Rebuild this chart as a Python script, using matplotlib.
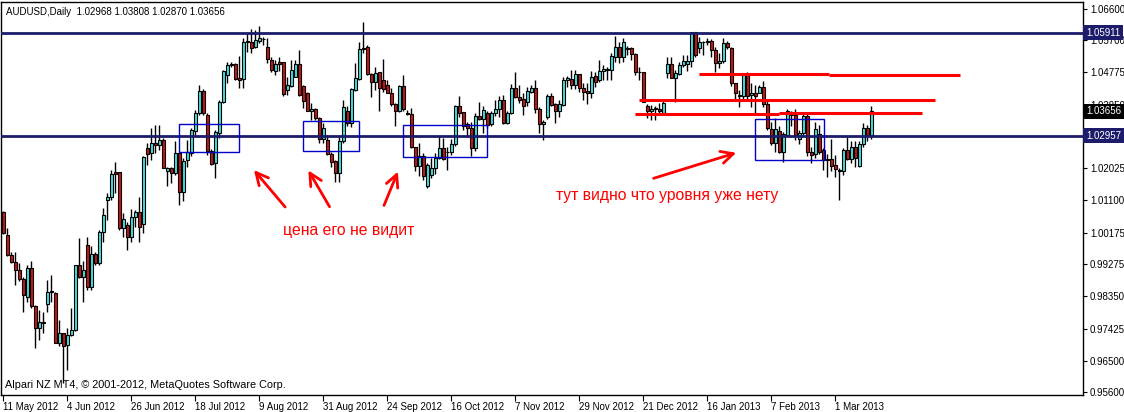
import matplotlib.pyplot as plt
from matplotlib.transforms import blended_transform_factory

plt.rcParams['font.family'] = ['Liberation Sans', 'DejaVu Sans']

# AUDUSD daily, one bar per trading day
opens = [1.0076, 1.0011, 0.9954, 0.9933, 0.9911, 0.9884, 0.9834, 0.9915, 0.9806, 0.9743,
         0.9758, 0.9813, 0.9847, 0.9844, 0.9700, 0.9729, 0.9696, 0.9724, 0.9737, 0.9925,
         0.9890, 0.9982, 0.9861, 0.9957, 0.9930, 1.0019, 1.0111, 1.0119, 1.0192, 1.0192,
         1.0030, 1.0040, 1.0006, 1.0062, 1.0077, 1.0042, 1.0260, 1.0245, 1.0276, 1.0269,
         1.0284, 1.0193, 1.0202, 1.0188, 1.0247, 1.0135, 1.0226, 1.0245, 1.0310, 1.0360,
         1.0425, 1.0355, 1.0253, 1.0217, 1.0303, 1.0392, 1.0469, 1.0497, 1.0500, 1.0460,
         1.0459, 1.0563, 1.0565, 1.0549, 1.0567, 1.0573, 1.0549, 1.0513, 1.0482, 1.0508,
         1.0507, 1.0427, 1.0439, 1.0465, 1.0500, 1.0438, 1.0419, 1.0366, 1.0371, 1.0346,
         1.0285, 1.0283, 1.0242, 1.0223, 1.0188, 1.0281, 1.0367, 1.0331, 1.0427, 1.0459,
         1.0546, 1.0549, 1.0472, 1.0451, 1.0477, 1.0456, 1.0440, 1.0419, 1.0386, 1.0367,
         1.0438, 1.0360, 1.0358, 1.0262, 1.0210, 1.0236, 1.0150, 1.0183, 1.0202, 1.0231,
         1.0260, 1.0250, 1.0248, 1.0271, 1.0381, 1.0364, 1.0329, 1.0317, 1.0260, 1.0352,
         1.0343, 1.0360, 1.0328, 1.0360, 1.0371, 1.0398, 1.0333, 1.0360, 1.0432, 1.0406,
         1.0400, 1.0393, 1.0422, 1.0432, 1.0371, 1.0328, 1.0348, 1.0408, 1.0386, 1.0365,
         1.0384, 1.0454, 1.0459, 1.0441, 1.0472, 1.0432, 1.0425, 1.0417, 1.0467, 1.0454,
         1.0482, 1.0484, 1.0484, 1.0522, 1.0549, 1.0522, 1.0548, 1.0546, 1.0529, 1.0479,
         1.0478, 1.0381, 1.0365, 1.0374, 1.0371, 1.0362, 1.0475, 1.0500, 1.0462, 1.0473,
         1.0499, 1.0501, 1.0510, 1.0592, 1.0546, 1.0563, 1.0563, 1.0568, 1.0540, 1.0503,
         1.0511, 1.0561, 1.0548, 1.0446, 1.0413, 1.0410, 1.0473, 1.0411, 1.0419, 1.0419,
         1.0434, 1.0386, 1.0314, 1.0276, 1.0309, 1.0250, 1.0298, 1.0364, 1.0355, 1.0285,
         1.0303, 1.0352, 1.0250, 1.0242, 1.0300, 1.0255, 1.0228, 1.0228, 1.0212, 1.0197,
         1.0195, 1.0255, 1.0228, 1.0264, 1.0210, 1.0271, 1.0317, 1.02968]
highs = [1.0081, 1.0030, 0.9963, 0.9961, 0.9930, 0.9891, 0.9925, 0.9935, 0.9810, 0.9796,
         0.9790, 0.9882, 0.9896, 0.9848, 0.9767, 0.9731, 0.9743, 0.9801, 0.9925, 1.0002,
         0.9935, 1.0006, 0.9978, 0.9963, 1.0025, 1.0088, 1.0131, 1.0197, 1.0219, 1.0192,
         1.0073, 1.0049, 1.0085, 1.0083, 1.0121, 1.0236, 1.0274, 1.0317, 1.0327, 1.0327,
         1.0288, 1.0207, 1.0207, 1.0279, 1.0250, 1.0231, 1.0283, 1.0317, 1.0370, 1.0441,
         1.0429, 1.0362, 1.0258, 1.0312, 1.0398, 1.0484, 1.0508, 1.0508, 1.0503, 1.0523,
         1.0575, 1.0589, 1.0601, 1.0599, 1.0610, 1.0578, 1.0575, 1.0522, 1.0513, 1.0522,
         1.0508, 1.0465, 1.0513, 1.0513, 1.0542, 1.0441, 1.0422, 1.0389, 1.0374, 1.0350,
         1.0331, 1.0298, 1.0250, 1.0226, 1.0293, 1.0398, 1.0381, 1.0432, 1.0503, 1.0565,
         1.0623, 1.0556, 1.0475, 1.0494, 1.0479, 1.0515, 1.0456, 1.0432, 1.0389, 1.0441,
         1.0470, 1.0370, 1.0374, 1.0264, 1.0274, 1.0245, 1.0217, 1.0231, 1.0245, 1.0295,
         1.0288, 1.0264, 1.0285, 1.0384, 1.0410, 1.0364, 1.0336, 1.0336, 1.0360, 1.0393,
         1.0381, 1.0365, 1.0365, 1.0398, 1.0408, 1.0413, 1.0367, 1.0444, 1.0479, 1.0441,
         1.0417, 1.0436, 1.0441, 1.0456, 1.0377, 1.0341, 1.0414, 1.0419, 1.0389, 1.0398,
         1.0465, 1.0467, 1.0484, 1.0484, 1.0473, 1.0446, 1.0446, 1.0481, 1.0479, 1.0513,
         1.0499, 1.0494, 1.0532, 1.0582, 1.0563, 1.0575, 1.0553, 1.0551, 1.0532, 1.0494,
         1.0479, 1.0387, 1.0384, 1.0381, 1.0389, 1.0398, 1.0522, 1.0522, 1.0484, 1.0508,
         1.0527, 1.0527, 1.0594, 1.0594, 1.0580, 1.0566, 1.0575, 1.0572, 1.0551, 1.0532,
         1.0575, 1.0568, 1.0549, 1.0448, 1.0427, 1.0473, 1.0477, 1.0446, 1.0441, 1.0441,
         1.0453, 1.0398, 1.0336, 1.0346, 1.0322, 1.0307, 1.0371, 1.0367, 1.0371, 1.0312,
         1.0360, 1.0360, 1.0264, 1.0336, 1.0326, 1.0260, 1.0243, 1.0285, 1.0240, 1.0202,
         1.0260, 1.0293, 1.0279, 1.0279, 1.0279, 1.0331, 1.0326, 1.03808]
lows = [1.0014, 0.9951, 0.9930, 0.9866, 0.9880, 0.9791, 0.9820, 0.9801, 0.9686, 0.9710,
        0.9729, 0.9791, 0.9820, 0.9700, 0.9691, 0.9586, 0.9624, 0.9721, 0.9734, 0.9887,
        0.9820, 0.9853, 0.9853, 0.9925, 0.9925, 0.9992, 1.0054, 1.0111, 1.0131, 1.0025,
        1.0006, 0.9968, 0.9992, 1.0035, 0.9992, 1.0016, 1.0212, 1.0226, 1.0245, 1.0255,
        1.0202, 1.0150, 1.0159, 1.0183, 1.0097, 1.0107, 1.0207, 1.0236, 1.0298, 1.0355,
        1.0355, 1.0240, 1.0212, 1.0174, 1.0288, 1.0389, 1.0446, 1.0494, 1.0456, 1.0432,
        1.0432, 1.0537, 1.0532, 1.0546, 1.0561, 1.0556, 1.0503, 1.0479, 1.0470, 1.0480,
        1.0408, 1.0413, 1.0436, 1.0470, 1.0408, 1.0374, 1.0365, 1.0341, 1.0341, 1.0274,
        1.0274, 1.0240, 1.0207, 1.0164, 1.0164, 1.0274, 1.0322, 1.0320, 1.0425, 1.0456,
        1.0532, 1.0470, 1.0406, 1.0427, 1.0365, 1.0422, 1.0417, 1.0381, 1.0324, 1.0364,
        1.0365, 1.0355, 1.0260, 1.0193, 1.0180, 1.0169, 1.0145, 1.0174, 1.0186, 1.0228,
        1.0226, 1.0197, 1.0239, 1.0267, 1.0350, 1.0312, 1.0291, 1.0236, 1.0253, 1.0341,
        1.0302, 1.0317, 1.0324, 1.0352, 1.0350, 1.0328, 1.0329, 1.0358, 1.0403, 1.0389,
        1.0355, 1.0381, 1.0417, 1.0362, 1.0302, 1.0283, 1.0343, 1.0381, 1.0333, 1.0348,
        1.0381, 1.0435, 1.0429, 1.0429, 1.0422, 1.0398, 1.0387, 1.0405, 1.0435, 1.0449,
        1.0454, 1.0456, 1.0456, 1.0508, 1.0503, 1.0508, 1.0527, 1.0513, 1.0470, 1.0456,
        1.0391, 1.0346, 1.0341, 1.0341, 1.0360, 1.0360, 1.0460, 1.0460, 1.0391, 1.0470,
        1.0494, 1.0482, 1.0494, 1.0522, 1.0532, 1.0527, 1.0556, 1.0522, 1.0479, 1.0489,
        1.0505, 1.0543, 1.0438, 1.0400, 1.0379, 1.0400, 1.0398, 1.0377, 1.0360, 1.0417,
        1.0379, 1.0312, 1.0269, 1.0250, 1.0245, 1.0221, 1.0295, 1.0322, 1.0283, 1.0272,
        1.0298, 1.0236, 1.0217, 1.0231, 1.0243, 1.0197, 1.0178, 1.0193, 1.0178, 1.0111,
        1.0183, 1.0226, 1.0217, 1.0207, 1.0207, 1.0262, 1.0279, 1.02870]
closes = [1.0016, 0.9954, 0.9933, 0.9909, 0.9884, 0.9839, 0.9915, 0.9806, 0.9743, 0.9760,
          0.9760, 0.9847, 0.9850, 0.9700, 0.9729, 0.9691, 0.9724, 0.9739, 0.9925, 0.9890,
          0.9911, 0.9861, 0.9957, 0.9930, 1.0019, 1.0068, 1.0121, 1.0186, 1.0186, 1.0030,
          1.0056, 1.0004, 1.0062, 1.0077, 1.0035, 1.0234, 1.0243, 1.0276, 1.0269, 1.0284,
          1.0204, 1.0202, 1.0188, 1.0247, 1.0135, 1.0223, 1.0250, 1.0312, 1.0360, 1.0424,
          1.0360, 1.0253, 1.0215, 1.0306, 1.0392, 1.0480, 1.0498, 1.0500, 1.0458, 1.0456,
          1.0565, 1.0567, 1.0548, 1.0570, 1.0575, 1.0572, 1.0515, 1.0484, 1.0501, 1.0500,
          1.0415, 1.0441, 1.0484, 1.0500, 1.0413, 1.0396, 1.0367, 1.0371, 1.0346, 1.0285,
          1.0317, 1.0242, 1.0219, 1.0188, 1.0281, 1.0379, 1.0331, 1.0429, 1.0460, 1.0544,
          1.0545, 1.0473, 1.0451, 1.0475, 1.0432, 1.0430, 1.0419, 1.0386, 1.0365, 1.0438,
          1.0372, 1.0358, 1.0264, 1.0210, 1.0236, 1.0181, 1.0212, 1.0202, 1.0231, 1.0260,
          1.0228, 1.0248, 1.0272, 1.0381, 1.0362, 1.0324, 1.0317, 1.0260, 1.0352, 1.0343,
          1.0370, 1.0326, 1.0360, 1.0371, 1.0398, 1.0331, 1.0360, 1.0432, 1.0406, 1.0398,
          1.0381, 1.0425, 1.0432, 1.0371, 1.0328, 1.0334, 1.0410, 1.0384, 1.0365, 1.0386,
          1.0456, 1.0460, 1.0441, 1.0472, 1.0432, 1.0422, 1.0417, 1.0465, 1.0450, 1.0481,
          1.0486, 1.0486, 1.0524, 1.0549, 1.0522, 1.0564, 1.0545, 1.0529, 1.0477, 1.0477,
          1.0393, 1.0365, 1.0372, 1.0372, 1.0367, 1.0389, 1.0500, 1.0462, 1.0475, 1.0499,
          1.0510, 1.0510, 1.0592, 1.0527, 1.0563, 1.0564, 1.0568, 1.0540, 1.0505, 1.0511,
          1.0561, 1.0549, 1.0446, 1.0419, 1.0410, 1.0473, 1.0410, 1.0419, 1.0408, 1.0434,
          1.0386, 1.0317, 1.0276, 1.0314, 1.0250, 1.0300, 1.0367, 1.0355, 1.0298, 1.0303,
          1.0352, 1.0250, 1.0240, 1.0314, 1.0250, 1.0226, 1.0226, 1.0210, 1.0199, 1.0195,
          1.0255, 1.0229, 1.0262, 1.0231, 1.0271, 1.0317, 1.0298, 1.03656]

date_pos = [0, 16, 32, 48, 64, 80, 96, 112, 128, 144, 160, 176, 192, 208]
date_labels = ['11 May 2012', '4 Jun 2012', '26 Jun 2012', '18 Jul 2012', '9 Aug 2012',
               '31 Aug 2012', '24 Sep 2012', '16 Oct 2012', '7 Nov 2012', '29 Nov 2012',
               '21 Dec 2012', '16 Jan 2013', '7 Feb 2013', '1 Mar 2013']
price_ticks = [1.066, 1.057, 1.04775, 1.0385, 1.02025, 1.011, 1.00175,
               0.99275, 0.9835, 0.97425, 0.965, 0.956]

# drawn objects: levels, boxes, arrows, notes
navy_levels = [1.05911, 1.02957]
red_segments = [(173.9, 206.4, 1.0473), (206.4, 239.2, 1.0471), (158.9, 232.9, 1.0399),
                (157.9, 193.9, 1.0359), (193.9, 229.7, 1.0361)]
boxes = [(43.9, 58.9, 1.0249, 1.0329), (74.9, 88.9, 1.0252, 1.0338),
         (99.9, 120.9, 1.0235, 1.0326), (187.9, 205.2, 1.0226, 1.0344)]
arrows = [((70.9, 1.0085), (62.2, 1.0203)), ((81.9, 1.0085), (75.9, 1.0203)),
          ((94.9, 1.0088), (98.9, 1.0200)), ((161.9, 1.0171), (183.9, 1.0249))]
notes = [(69.9, 1.0025, 'цена его не видит'), (138.2, 1.0123, 'тут видно что уровня уже нету')]

BULL = '#3fe2e2'
BEAR = '#cc1414'
NAVY = '#1c1c6b'

fig = plt.figure(figsize=(11.24, 4.12), dpi=100)
ax = fig.add_axes([0.0009, 0.0413, 0.9626, 0.9539])

x = list(range(len(closes)))
bottoms = [min(o, c) for o, c in zip(opens, closes)]
heights = [abs(c - o) for o, c in zip(opens, closes)]
colors = [BULL if c >= o else BEAR for o, c in zip(opens, closes)]
ax.vlines(x, lows, highs, color='black', lw=1, zorder=2)
ax.bar(x, heights, 0.72, bottoms, color=colors, edgecolor='black', lw=0.8, zorder=3)

for lvl in navy_levels:
    ax.axhline(lvl, color=NAVY, lw=2, zorder=5)
for x0, x1, p in red_segments:
    ax.plot([x0, x1], [p, p], color='red', lw=2.2, solid_capstyle='butt', zorder=5)
for x0, x1, p0, p1 in boxes:
    ax.add_patch(plt.Rectangle((x0, p0), x1 - x0, p1 - p0, fill=False,
                               edgecolor='#0000c8', lw=1, zorder=6))
for tail, tip in arrows:
    ax.annotate('', xy=tip, xytext=tail,
                arrowprops=dict(arrowstyle='->', color='red', lw=2, mutation_scale=22))
for nx, ny, txt in notes:
    ax.text(nx, ny, txt, color='red', fontsize=11.3, ha='left', va='center')

ax.set_xlim(-0.575, 269.9)
ax.set_ylim(0.95519, 1.06791)

ax.yaxis.tick_right()
ax.set_yticks(price_ticks)
ax.set_yticklabels(['%.5f' % p for p in price_ticks])
ax.tick_params(axis='y', direction='out', length=3, labelsize=7, pad=2)
ax.set_xticks(date_pos)
ax.set_xticklabels(date_labels, ha='left')
ax.tick_params(axis='x', direction='out', length=4, labelsize=7, pad=1)
for sp in ax.spines.values():
    sp.set_color('black')
    sp.set_linewidth(1)

# price tags on the right scale
trans = blended_transform_factory(ax.transAxes, ax.transData)
for p, bg in [(1.05911, NAVY), (1.02957, NAVY), (1.03656, 'black')]:
    ax.text(1.003, p, '%.5f' % p, transform=trans, color='white', fontsize=7,
            va='center', ha='left', clip_on=False, zorder=10,
            bbox=dict(facecolor=bg, edgecolor='none', boxstyle='square,pad=0.28'))

ax.text(0.005, 0.988, 'AUDUSD,Daily  1.02968 1.03808 1.02870 1.03656',
        transform=ax.transAxes, fontsize=7, va='top', ha='left')
ax.text(0.004, 0.012, 'Alpari NZ MT4, © 2001-2012, MetaQuotes Software Corp.',
        transform=ax.transAxes, fontsize=7.8, va='bottom', ha='left')

fig.savefig('out.png', dpi=100)
